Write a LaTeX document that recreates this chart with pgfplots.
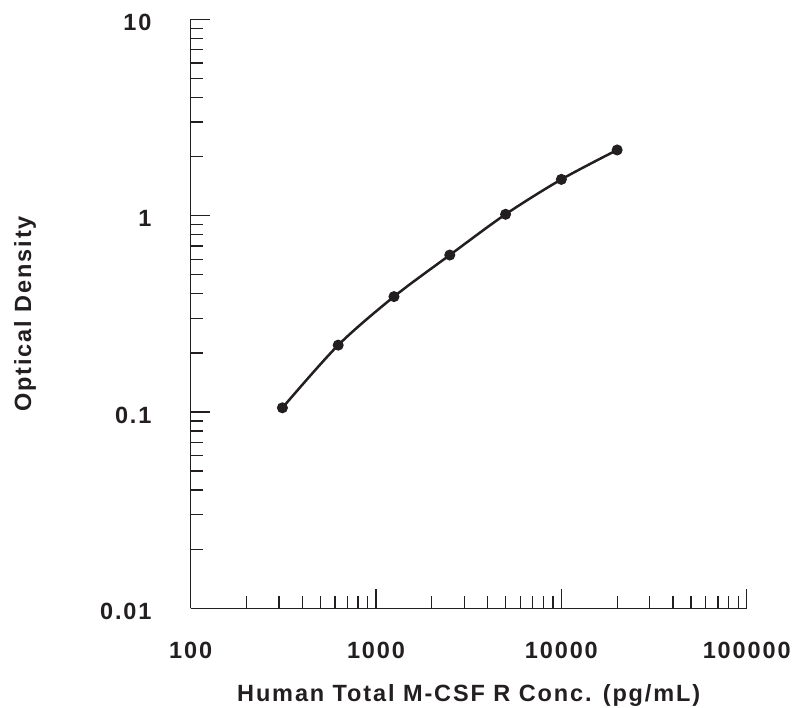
\documentclass[border=0pt]{standalone}
\usepackage{fontspec}
\setmainfont{Liberation Sans}[LetterSpace=8]
\usepackage{pgfplots}
\pgfplotsset{compat=1.18}
\definecolor{ink}{RGB}{35,31,32}

\begin{document}
\begin{tikzpicture}
\useasboundingbox (-190.7pt,-99pt) rectangle (602.3pt,608.3pt);
\begin{axis}[
  at={(0,0)}, anchor=south west,
  scale only axis, width=556pt, height=589pt,
  xmode=log, ymode=log,
  xmin=100, xmax=100000, ymin=0.01, ymax=10,
  axis x line=bottom, axis y line=left,
  axis line style={-, line width=1.3pt, ink},
  tick align=inside,
  major tick length=19pt, minor tick length=12pt,
  every tick/.style={line width=1.3pt, ink},
  xtick={100,1000,10000,100000}, xticklabels={100,1000,10000,100000},
  ytick={0.01,0.1,1,10}, yticklabels={0.01,0.1,1,10},
  minor xtick={200,300,400,500,600,700,800,900,2000,3000,4000,5000,6000,7000,8000,9000,20000,30000,40000,50000,60000,70000,80000,90000},
  minor ytick={0.02,0.03,0.04,0.05,0.06,0.07,0.08,0.09,0.2,0.3,0.4,0.5,0.6,0.7,0.8,0.9,2,3,4,5,6,7,8,9},
  ticklabel style={font=\fontsize{23.5}{28}\selectfont\bfseries, text=ink, inner sep=0pt},
  xticklabel style={anchor=base, yshift=-50pt},
  yticklabel style={anchor=east, xshift=-39pt, yshift=-3pt},
  label style={font=\fontsize{23.5}{28}\selectfont\bfseries, text=ink, inner sep=0pt},
  xlabel={Human Total M-CSF R Conc. (pg/mL)},
  ylabel={Optical Density},
  xlabel style={at={(axis description cs:0.5,-0.159)}, anchor=base},
  ylabel style={at={(axis description cs:-0.287,0.5)}, anchor=base},
  clip=false,
]
\addplot[ink, line width=2.5pt, smooth, mark=*, mark size=5pt,
  mark options={solid, fill=ink, line width=1pt}] coordinates {
(312.5,0.105)
(625,0.219)
(1250,0.387)
(2500,0.63)
(5000,1.016)
(10000,1.53)
(20000,2.16)
};
\end{axis}
\end{tikzpicture}
\end{document}
